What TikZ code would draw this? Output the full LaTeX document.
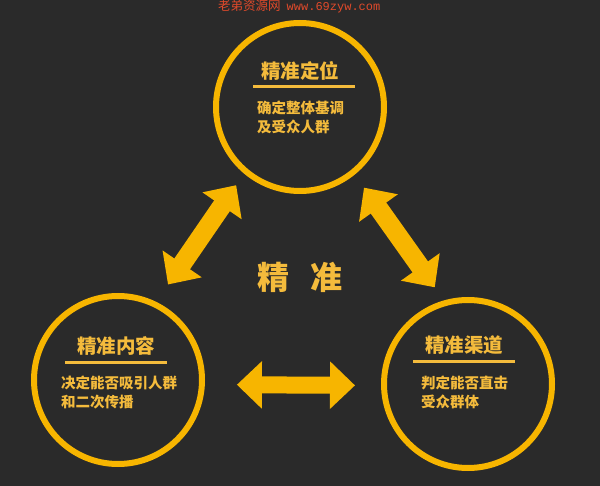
\documentclass[tikz,border=0pt]{standalone}
\usepackage{fontspec}
\newfontfamily\cjk{Noto Sans CJK SC}
\newfontfamily\markmono{Liberation Mono}
\usetikzlibrary{arrows.meta,positioning}
\definecolor{bg}{HTML}{2A2A2A}
\definecolor{gold}{HTML}{F7B500}
\definecolor{goldtxt}{HTML}{F4BB3C}
\definecolor{wmred}{HTML}{E04A2A}

\begin{document}
\begin{tikzpicture}[
  x=1pt,y=-1pt,
  ring/.style={circle,draw=gold,line width=6pt,minimum size=168pt,inner sep=0pt},
  ttl/.style={font=\cjk\bfseries\fontsize{19.5}{22}\selectfont,text=goldtxt,inner sep=0pt},
  txt/.style={font=\cjk\bfseries\fontsize{14.5}{19}\selectfont,text=goldtxt,align=left,
              inner sep=0pt,anchor=north west},
  rule/.style={draw=goldtxt,line width=3pt},
  dbl/.style={gold,line width=19pt,
              {Triangle[width=46pt,length=25pt]}-{Triangle[width=46pt,length=25pt]}}]
\useasboundingbox (0,0) rectangle (600,486);
\fill[bg] (0,0) rectangle (600,486);
\node[anchor=west,inner sep=0pt,text=wmred] (wm) at (218,6)
  {{\cjk\fontsize{12.5}{14}\selectfont 老弟资源网}\hspace{6pt}{\markmono\fontsize{12}{14}\selectfont www.69zyw.com}};
% three circles
\node[ring] (pos) at (300,107) {};
\node[ring] (lft) at (118,380) {};
\node[ring] (rgt) at (468,384) {};
% top
\node[ttl] (posT) at (300,71) {精准定位};
\draw[rule] (253,87) -- (355,87);
\node[txt] (posB) at (257,101) {确定整体基调\\及受众人群};
% left
\node[ttl] (lftT) at (116,346) {精准内容};
\draw[rule] (65,363) -- (167,363);
\node[txt] (lftB) at (61,376) {决定能否吸引人群\\和二次传播};
% right
\node[ttl] (rgtT) at (464,345) {精准渠道};
\draw[rule] (413,362) -- (515,362);
\node[txt] (rgtB) at (421,376) {判定能否直击\\受众群体};
% centre
\node[font=\cjk\bfseries\fontsize{32}{36}\selectfont,text=goldtxt] (core) at (300,277)
  {精\hspace{22pt}准};
\draw[dbl,shorten <=21pt,shorten >=14pt] (lft.64) -- (pos.230);
\draw[dbl,shorten <=16pt,shorten >=16pt] (pos.309) -- (rgt.106);
\draw[dbl,line width=17pt,shorten <=32pt,shorten >=26pt] (lft.-3) -- (rgt.181);
\end{tikzpicture}
\end{document}
